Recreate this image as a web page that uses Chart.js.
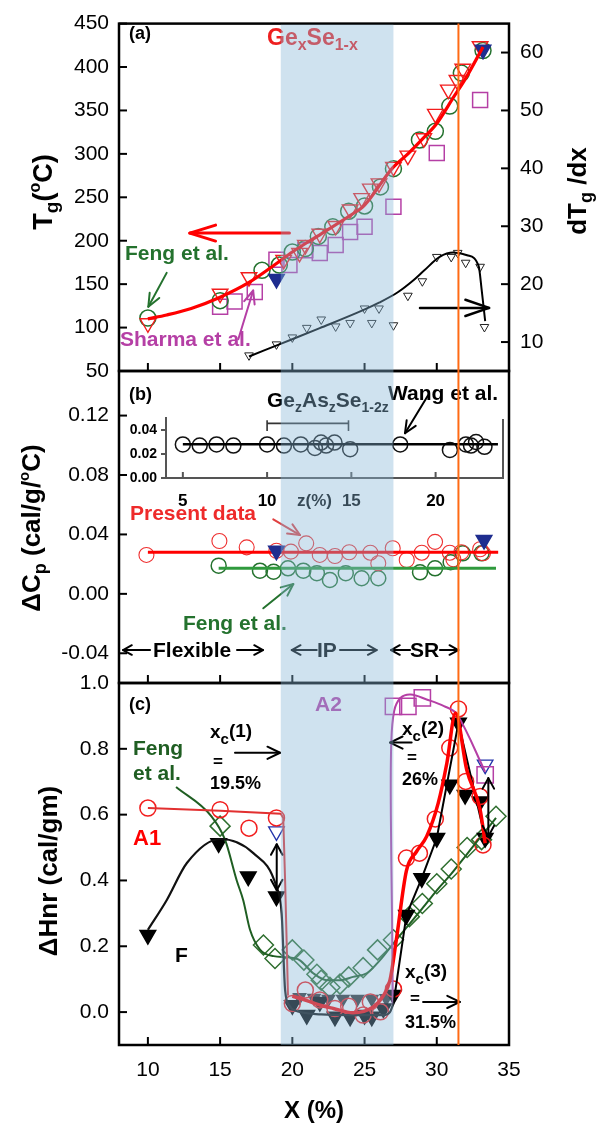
<!DOCTYPE html>
<html>
<head>
<meta charset="utf-8">
<script src="https://cdn.jsdelivr.net/npm/chart.js@4.4.1/dist/chart.umd.min.js"></script>
<style>
body{margin:0;background:#fff}
#wrap{position:relative;width:605px;height:1124px}
canvas{position:absolute;left:0;top:0}
</style>
</head>
<body>
<div id="wrap">
<canvas id="ca" width="605" height="1124"></canvas>
<canvas id="cb" width="605" height="1124"></canvas>
<canvas id="cc" width="605" height="1124"></canvas>
<canvas id="ci" width="605" height="1124"></canvas>
</div>
<script>
// ---- axes / ticks ----
const xTicks=[10,15,20,25,30,35]
const tgTicks=[50,100,150,200,250,300,350,400,450]
const dtgTicks=[10,20,30,40,50,60]
const cpTicks=[-0.04,0,0.04,0.08,0.12]
const hTicks=[0,0.2,0.4,0.6,0.8,1.0]
const zTicks=[5,10,15,20]
const insetTicks=[0,0.02,0.04]
const bandX=[19.2,27.0]   // intermediate phase
const xcLine=31.5

// ---- (a) Tg ----
const tgPresentX=[10,15,17,19.4,20.5,20.9,21.9,23,24,24.8,25.4,26,27,28,29.1,29.9,30.8,31.4,31.8,33]
const tgPresentY=[105,139,158,178,186,195,208,217,236,249,260,266,285,298,318,346,374,385,398,424]
const tgFengX=[10,15,17.9,19.1,20,20.9,21.8,22.8,23.9,25,26.1,27,28.8,29.9,30.9,31.7,33.2]
const tgFengY=[111,131,166,172,187,191,205,216,234,240,262,283,316,326,355,393,419]
const tgSharmaX=[15,16,17.4,18.9,19.8,20.9,21.9,23,24,25,27,30,33]
const tgSharmaY=[124,130,141,178,172,189,186,195,210,216,239,301,362]
const tgNavyX=[18.9,33.2]
const tgNavyY=[156,420]
const tgFitX=[10,11.3,13,15,17,19,20,22,24,25,26.9,28,29,30,31.15,32,33.2]
const tgFitY=[110,114.5,122,135,152,175,187,208,229,241,283,300,317,335,365,387,423]
const dtgX=[17,18.9,20,21,22,23,24,25,25.5,26,27,28,29,30,31,31.45,32,33,33.3]
const dtgY=[7.7,9.6,10.8,12.45,13.9,12.7,13.3,15.8,13.3,15.8,12.9,18,20.5,24.7,24.7,25.4,23.7,23,12.6]
const dtgFitX=[17,19.1,21.9,24.9,26,27.3,28.3,29.1,30.2,31.15,32.1,32.9,33.1,33.35]
const dtgFitY=[7.5,9.6,12.4,15.5,16.8,18.6,20.5,22.3,24.7,25.45,25.0,23.1,19.2,13.6]

// ---- (b) delta Cp ----
const cpPresentX=[9.9,14.95,16.84,18.9,19.9,20.96,21.9,22.95,23.94,25.4,25.95,26.95,27.92,28.96,29.88,30.9,31.15,31.7,33,33.2]
const cpPresentY=[0.0262,0.0356,0.0313,0.029,0.0284,0.034,0.0262,0.0255,0.028,0.0277,0.0206,0.0307,0.0228,0.0277,0.035,0.0277,0.0233,0.028,0.030,0.0273]
const cpFengX=[14.9,17.76,18.7,19.7,20.76,21.7,22.6,23.7,24.8,25.95,28.84,29.88,30.96,31.8,33.1]
const cpFengY=[0.019,0.0156,0.0149,0.0172,0.0156,0.0139,0.0093,0.0139,0.0105,0.0105,0.0145,0.0172,0.0213,0.0273,0.0273]
const cpNavyX=[18.9,33.27]
const cpNavyY=[0.029,0.0363]
const cpPresentFitX=[10,34.25]
const cpPresentFitY=[0.028,0.028]
const cpFengFitX=[14.9,34.1]
const cpFengFitY=[0.0172,0.0172]
// inset: GezAszSe1-2z (Wang et al.)
const wangZ=[5,6,7,8,10,11,12,12.84,13.2,13.5,14,14.93,17.9,20.85,21.8,22.1,22.4,22.9]
const wangY=[0.028,0.027,0.028,0.027,0.028,0.027,0.028,0.025,0.0295,0.027,0.0295,0.024,0.028,0.0234,0.028,0.027,0.030,0.026]
const wangFitZ=[5,23.7]
const wangFitY=[0.0282,0.0282]

// ---- (c) delta Hnr ----
const hRedX=[10,15,17,18.9,20,20.9,21.9,22.95,23.9,24.9,25.4,26.1,27,27.9,28.8,29.9,30.9,31.5,32,33,33.2]
const hRedY=[0.62,0.615,0.559,0.59,0.026,0.067,0.037,0.011,0.018,-0.009,0.031,0.001,0.07,0.468,0.483,0.587,0.803,0.921,0.701,0.655,0.508]
const hBlackX=[10,14.9,16.95,18.9,20,21,21.9,22.95,24,25,25.5,26.3,27,27.9,28.96,30,30.9,31.5,31.96,33,33.35]
const hBlackY=[0.234,0.513,0.412,0.351,0.021,-0.009,0.031,-0.014,-0.014,-0.009,-0.014,0.011,0.052,0.295,0.407,0.529,0.691,0.879,0.66,0.64,0.529]
const hGrayX=[20.5,21.5,22.5,23.5,24.5,25.5,26.5]
const hGrayY=[0.045,0.043,0.04,0.04,0.04,0.04,0.042]
const hFengX=[15,18,18.8,20,20.8,21.7,22,22.6,23.3,23.9,24.9,25.9,27,28.1,29,30,31,32.1,33.1,34.1]
const hFengY=[0.565,0.204,0.163,0.189,0.158,0.115,0.097,0.075,0.085,0.107,0.135,0.189,0.22,0.29,0.33,0.39,0.435,0.5,0.524,0.595]
const hMagX=[27,28,29,33.35]
const hMagY=[0.929,0.929,0.955,0.721]
const hNavyX=[18.9,33.35]
const hNavyY=[0.549,0.752]
const a1FitX=[10,15,19.2,19.37,19.5,19.7]
const a1FitY=[0.62,0.612,0.603,0.59,0.4,0.05]
const redFitX=[20,21,22,22.84,24.2,25.6,26.3,26.76,27.2,27.9,28.6,29.3,30.1,30.7,31.3,32.07,33,33.35]
const redFitY=[0.049,0.035,0.02,0.011,-0.002,0.016,0.05,0.097,0.22,0.43,0.488,0.534,0.635,0.757,0.909,0.737,0.615,0.513]
const fFitX=[10,11.3,12.7,15,17.3,18.9,19.26,19.5,19.8,20.1,22,24,26.3,26.76,27.0]
const fFitY=[0.25,0.34,0.453,0.526,0.483,0.381,0.3,0.067,0.02,0.006,-0.007,-0.009,-0.009,0.0,0.026]
const blackSegX=[27,27.9,28.96,30,31.5,33.35]
const blackSegY=[0.026,0.295,0.407,0.529,0.879,0.529]
const a2FitX=[26.95,26.9,26.82,26.85,27.05,27.5,28.2,29.3,30.5,31.4,33.35]
const a2FitY=[0.02,0.3,0.6,0.82,0.915,0.955,0.965,0.95,0.93,0.905,0.73]
const hFengFitX=[11.95,14.4,15.34,16.15,16.6,17.07,17.76,18.7,19.7,20.5,21.45,22.4,23.3,24.2,25.15,26.07,27,28,29,30,31,32,33,34.1]
const hFengFitY=[0.684,0.595,0.524,0.40,0.34,0.25,0.19,0.17,0.1665,0.158,0.118,0.097,0.097,0.107,0.118,0.158,0.209,0.262,0.315,0.37,0.42,0.475,0.53,0.59]

// ---- styling ----
const FONT='"Liberation Sans", Arial, Helvetica, sans-serif'
const RED='#ff0000',REDM='#f21d1d',GREEN='#24722e',GREENL='#2f9a3d',GREEND='#1f5e22',MAG='#b53fa5',NAVY='#1f2d8f',ORANGE='#ff6a14'
Chart.defaults.font.family=FONT
Chart.defaults.color='#000'
Chart.defaults.animation=false
Chart.defaults.events=[]
Chart.defaults.plugins.legend.display=false
Chart.defaults.plugins.tooltip.enabled=false

const pts=(xs,ys)=>xs.map((x,i)=>({x:x,y:ys[i]}))
function mk(xs,ys,o){
return Object.assign({data:pts(xs,ys),showLine:false,order:2,pointBorderWidth:1.5,pointBackgroundColor:'rgba(0,0,0,0)'},o)
}
function ln(xs,ys,o){
return Object.assign({data:pts(xs,ys),showLine:true,pointRadius:0,fill:false,order:1,borderWidth:2},o)
}
function xScale(show){
return {type:'linear',min:8,max:35,display:show,
afterBuildTicks:s=>{s.ticks=xTicks.map(v=>({value:v}))},
afterFit:s=>{if(show)s.height=79},
grid:{display:false,drawTicks:false},border:{display:false},
ticks:{autoSkip:false,maxRotation:0,padding:13,color:'#000',font:{size:21}}}
}
function yScale(min,max,ticks,fmt,side){
return {type:'linear',position:side||'left',min:min,max:max,
afterBuildTicks:s=>{s.ticks=ticks.map(v=>({value:v}))},
afterFit:s=>{s.width=side==='right'?96:119},
grid:{display:false,drawTicks:false},border:{display:false},
ticks:{autoSkip:false,padding:side==='right'?11:10,color:'#000',font:{size:21},callback:fmt}}
}

function line(ctx,x1,y1,x2,y2){ctx.beginPath();ctx.moveTo(x1,y1);ctx.lineTo(x2,y2);ctx.stroke()}
function drawArrow(ctx,x1,y1,x2,y2,o){
ctx.save()
ctx.strokeStyle=o.c||'#000';ctx.lineWidth=o.w||2;ctx.lineCap='round';ctx.lineJoin='round'
line(ctx,x1,y1,x2,y2)
const heads=o.both?[[x2,y2,x1,y1],[x1,y1,x2,y2]]:[[x2,y2,x1,y1]]
const L=o.h||12,a=o.a||0.42
heads.forEach(h=>{
const ang=Math.atan2(h[1]-h[3],h[0]-h[2])
ctx.beginPath()
ctx.moveTo(h[0]-L*Math.cos(ang-a),h[1]-L*Math.sin(ang-a))
ctx.lineTo(h[0],h[1])
ctx.lineTo(h[0]-L*Math.cos(ang+a),h[1]-L*Math.sin(ang+a))
ctx.stroke()
})
ctx.restore()
}
function drawRich(ctx,segs,x,y,color,center){
ctx.save();ctx.fillStyle=color;ctx.textBaseline='alphabetic';ctx.textAlign='left'
let w=0
segs.forEach(s=>{ctx.font='bold '+s[1]+'px '+FONT;w+=ctx.measureText(s[0]).width})
let cx=center?x-w/2:x
segs.forEach(s=>{ctx.font='bold '+s[1]+'px '+FONT;ctx.fillText(s[0],cx,y+(s[2]||0));cx+=ctx.measureText(s[0]).width})
ctx.restore()
}
function drawLabel(ctx,L){
const col=L.c||'#000'
if(L.rot){
ctx.save();ctx.translate(L.x,L.y);ctx.rotate(-Math.PI/2)
drawRich(ctx,L.s,0,L.s[0][1]*0.36,col,true)
ctx.restore()
}else drawRich(ctx,L.s,L.x,L.y,col,L.center)
}

// ---- annotations ----
const labelsA=[
{x:129,y:39,s:[['(a)',18]]},
{x:267,y:45,c:'#ee2020',s:[['Ge',23],['x',16,5],['Se',23],['1-x',16,5]]},
{x:125,y:260,c:GREEN,s:[['Feng et al.',21]]},
{x:120,y:346,c:MAG,s:[['Sharma et al.',21]]},
{x:42,y:192,rot:true,s:[['T',27],['g',19,6],['(',27],['o',16,-12],['C)',27]]},
{x:577,y:191,rot:true,s:[['dT',26],['g',18,6],[' /dx',26]]}
]
const arrowsA=[
{f:[19.8,208.8],t:[12.9,208.8],c:RED,w:3,h:27,a:0.3},
{f:[28.84,15.9],t:[33.62,15.9],ax:'y2',c:'#000',w:2.5,h:25,a:0.33},
{f:[11.3,163],t:[10.03,124],c:GREEN,w:2,h:14,a:0.4},
{f:[16.26,86.6],t:[17.29,142.7],c:MAG,w:2,h:14,a:0.4}
]
const labelsB=[
{x:129,y:400,s:[['(b)',18]]},
{x:267,y:407,s:[['Ge',21],['z',14,5],['As',21],['z',14,5],['Se',21],['1-2z',14,5]]},
{x:388,y:400,s:[['Wang et al.',21]]},
{x:130,y:520,c:'#ee2a2a',s:[['Present data',21]]},
{x:183,y:630,c:GREEN,s:[['Feng et al.',21]]},
{x:153,y:657,s:[['Flexible',21]]},
{x:317,y:657,s:[['IP',21]]},
{x:410,y:657,s:[['SR',21]]},
{x:31,y:528,rot:true,s:[['\u0394C',26],['p',18,6],[' (cal/g/',26],['o',15,-11],['C)',26]]}
]
const arrowsB=[
{f:[18.68,0.0502],t:[20.53,0.0396],c:'#e04040',w:2,h:13},
{f:[17.99,-0.0097],t:[20.07,0.0066],c:GREEN,w:2,h:13},
{f:[29.41,0.1338],t:[27.8,0.1081],c:'#000',w:2,h:13},
{f:[10.15,-0.0378],t:[8.28,-0.0378],w:2,h:10,a:0.5},
{f:[16.17,-0.0378],t:[17.97,-0.0378],w:2,h:10,a:0.5},
{f:[21.69,-0.0378],t:[19.96,-0.0378],w:2,h:10,a:0.5},
{f:[23.3,-0.0378],t:[25.84,-0.0378],w:2,h:10,a:0.5},
{f:[28.15,-0.0378],t:[26.83,-0.0378],w:2,h:10,a:0.5},
{f:[30.22,-0.0378],t:[31.49,-0.0378],w:2,h:10,a:0.5}
]
const labelsC=[
{x:129,y:710,s:[['(c)',18]]},
{x:315,y:711,c:MAG,s:[['A2',21]]},
{x:133,y:755,c:GREEND,s:[['Feng',21]]},
{x:133,y:780,c:GREEND,s:[['et al.',21]]},
{x:210,y:738,s:[['x',19],['c',15,6],['(1)',19,-1]]},
{x:213,y:767,s:[['=',17]]},
{x:210,y:789,s:[['19.5%',18]]},
{x:133,y:845,c:RED,s:[['A1',22]]},
{x:175,y:962,s:[['F',21]]},
{x:402,y:735,s:[['x',19],['c',15,6],['(2)',19,-1]]},
{x:407,y:763,s:[['=',17]]},
{x:402,y:785,s:[['26%',18]]},
{x:405,y:978,s:[['x',19],['c',15,6],['(3)',19,-1]]},
{x:410,y:1004,s:[['=',17]]},
{x:405,y:1028,s:[['31.5%',18]]},
{x:48,y:871,rot:true,s:[['\u0394Hnr (cal/gm)',26]]},
{x:314,y:1118,center:true,s:[['X (%)',24]]}
]
const arrowsC=[
{f:[16.03,0.788],t:[19.15,0.788],w:2,h:14,a:0.45},
{f:[28.26,0.819],t:[26.76,0.819],w:2,h:14,a:0.45},
{f:[29.05,0.031],t:[31.6,0.031],w:2,h:14,a:0.45},
{f:[18.92,0.37],t:[18.92,0.51],w:2,h:12,a:0.5,both:true},
{f:[33.57,0.534],t:[33.57,0.711],w:2,h:12,a:0.5,both:true}
]

function panelPlugin(labels,arrows){
return {id:'panel',
afterDatasetsDraw(ch){
const ctx=ch.ctx,sx=ch.scales.x
arrows.forEach(o=>{
const sy=ch.scales[o.ax||'y']
drawArrow(ctx,sx.getPixelForValue(o.f[0]),sy.getPixelForValue(o.f[1]),sx.getPixelForValue(o.t[0]),sy.getPixelForValue(o.t[1]),o)
})
labels.forEach(L=>drawLabel(ctx,L))
},
afterDraw(ch){
const ctx=ch.ctx,a=ch.chartArea
ctx.save();ctx.strokeStyle='#000';ctx.lineWidth=2
xTicks.forEach(v=>{const p=ch.scales.x.getPixelForValue(v);line(ctx,p,a.bottom,p,a.bottom-8)})
ch.scales.y.ticks.forEach(t=>{const p=ch.scales.y.getPixelForValue(t.value);line(ctx,a.left,p,a.left+8,p)})
if(ch.scales.y2)ch.scales.y2.ticks.forEach(t=>{const p=ch.scales.y2.getPixelForValue(t.value);line(ctx,a.right,p,a.right-8,p)})
ctx.lineWidth=2.5
ctx.strokeRect(a.left,a.top,a.right-a.left,a.bottom-a.top)
ctx.restore()
}}
}

const baseOpts=(pad,scales)=>({responsive:false,maintainAspectRatio:false,layout:{padding:pad},scales:scales})

// ---- panel (a) ----
const chartA=new Chart(document.getElementById('ca'),{
type:'scatter',
data:{datasets:[
ln(tgFitX,tgFitY,{borderColor:RED,borderWidth:3.2,cubicInterpolationMode:'monotone',order:0}),
ln(dtgFitX,dtgFitY,{yAxisID:'y2',borderColor:'#000',borderWidth:2,cubicInterpolationMode:'monotone'}),
mk(tgPresentX,tgPresentY,{pointStyle:'triangle',pointRotation:180,pointRadius:9,pointBorderColor:REDM,pointBorderWidth:1.4}),
mk(tgFengX,tgFengY,{pointStyle:'circle',pointRadius:8,pointBorderColor:GREEN}),
mk(tgSharmaX,tgSharmaY,{pointStyle:'rect',pointRadius:10.6,pointBorderColor:MAG}),
mk(tgNavyX,tgNavyY,{pointStyle:'triangle',pointRotation:180,pointRadius:9,pointBorderColor:NAVY,pointBackgroundColor:NAVY,order:1}),
mk(dtgX,dtgY,{yAxisID:'y2',pointStyle:'triangle',pointRotation:180,pointRadius:5,pointBorderColor:'#222',pointBorderWidth:1})
]},
options:baseOpts({top:14,bottom:753,left:0,right:0},{
x:xScale(false),
y:yScale(50,450,tgTicks,v=>String(v)),
y2:yScale(5,65,dtgTicks,v=>String(v),'right')
}),
plugins:[panelPlugin(labelsA,arrowsA)]
})

// ---- panel (b) ----
const chartB=new Chart(document.getElementById('cb'),{
type:'scatter',
data:{datasets:[
ln(cpPresentFitX,cpPresentFitY,{borderColor:RED,borderWidth:3}),
ln(cpFengFitX,cpFengFitY,{borderColor:GREENL,borderWidth:3}),
mk(cpPresentX,cpPresentY,{pointStyle:'circle',pointRadius:7.5,pointBorderColor:'#ee3030',pointBorderWidth:1.1}),
mk(cpFengX,cpFengY,{pointStyle:'circle',pointRadius:7.5,pointBorderColor:GREEN}),
mk(cpNavyX,cpNavyY,{pointStyle:'triangle',pointRotation:180,pointRadius:9,pointBorderColor:NAVY,pointBackgroundColor:NAVY,order:0})
]},
options:baseOpts({top:371,bottom:441,left:0,right:96},{
x:xScale(false),
y:yScale(-0.06,0.15,cpTicks,v=>v.toFixed(2))
}),
plugins:[panelPlugin(labelsB,arrowsB)]
})

// ---- panel (c) ----
const chartC=new Chart(document.getElementById('cc'),{
type:'scatter',
data:{datasets:[
ln(redFitX,redFitY,{borderColor:RED,borderWidth:3.5,cubicInterpolationMode:'monotone',order:0}),
ln(a1FitX,a1FitY,{borderColor:'#e23030',borderWidth:2}),
ln(fFitX,fFitY,{borderColor:'#111',borderWidth:2.2,cubicInterpolationMode:'monotone'}),
ln(blackSegX,blackSegY,{borderColor:'#000',borderWidth:2}),
ln(a2FitX,a2FitY,{borderColor:MAG,borderWidth:2,tension:0.35}),
ln(hFengFitX,hFengFitY,{borderColor:GREEND,borderWidth:2,cubicInterpolationMode:'monotone'}),
mk(hRedX,hRedY,{pointStyle:'circle',pointRadius:8,pointBorderColor:REDM}),
mk(hBlackX,hBlackY,{pointStyle:'triangle',pointRotation:180,pointRadius:9,pointBorderColor:'#000',pointBackgroundColor:'#000'}),
mk(hGrayX,hGrayY,{pointStyle:'triangle',pointRotation:180,pointRadius:7,pointBorderColor:'#333',pointBackgroundColor:'#333'}),
mk(hFengX,hFengY,{pointStyle:'rectRot',pointRadius:10,pointBorderColor:'#2e6e2e'}),
mk(hMagX,hMagY,{pointStyle:'rect',pointRadius:11.5,pointBorderColor:MAG}),
mk(hNavyX,hNavyY,{pointStyle:'triangle',pointRotation:180,pointRadius:9,pointBorderColor:'#2233aa',pointBorderWidth:1.3})
]},
options:baseOpts({top:683,bottom:0,left:0,right:96},{
x:xScale(true),
y:yScale(-0.1,1.0,hTicks,v=>v.toFixed(1))
}),
plugins:[panelPlugin(labelsC,arrowsC)]
})

// ---- inset + band overlay ----
const insetPlugin={id:'inset',
afterDatasetsDraw(ch){
const ctx=ch.ctx,a=ch.chartArea,sx=ch.scales.x,sy=ch.scales.y
ctx.save();ctx.strokeStyle='#555';ctx.lineWidth=2
line(ctx,a.right,a.top+1,a.right,a.bottom)
zTicks.forEach(v=>{const p=sx.getPixelForValue(v);line(ctx,p,a.bottom,p,a.bottom-6)})
insetTicks.forEach(v=>{const p=sy.getPixelForValue(v);line(ctx,a.left,p,a.left-5,p)})
ctx.strokeStyle='#333';ctx.lineWidth=1.6
const y0=sy.getPixelForValue(0.0455),xl=sx.getPixelForValue(10),xr=sx.getPixelForValue(14.83)
line(ctx,xl,y0,xr,y0)
line(ctx,xl,sy.getPixelForValue(0.0481),xl,sy.getPixelForValue(0.0392))
line(ctx,xr,sy.getPixelForValue(0.0481),xr,sy.getPixelForValue(0.0392))
ctx.restore()
drawLabel(ctx,{x:297,y:506,s:[['z(%)',17]]})
}}
const bandPlugin={id:'band',
afterDraw(ch){
const ctx=ch.ctx,xs=chartA.scales.x
const top=chartA.chartArea.top,bot=chartC.chartArea.bottom
const x1=xs.getPixelForValue(bandX[0]),x2=xs.getPixelForValue(bandX[1])
ctx.save()
ctx.fillStyle='rgba(135,182,215,0.4)'
ctx.fillRect(x1,top+1,x2-x1,bot-top-1)
const xo=xs.getPixelForValue(xcLine)
ctx.strokeStyle=ORANGE;ctx.lineWidth=2
line(ctx,xo,top,xo,bot)
ctx.restore()
}}
const chartI=new Chart(document.getElementById('ci'),{
type:'scatter',
data:{datasets:[
ln(wangFitZ,wangFitY,{borderColor:'#000',borderWidth:2.5}),
mk(wangZ,wangY,{pointStyle:'circle',pointRadius:7.5,pointBorderColor:'#111'})
]},
options:baseOpts({top:418,bottom:606,left:0,right:102},{
x:{type:'linear',min:4,max:24,
afterBuildTicks:s=>{s.ticks=zTicks.map(v=>({value:v}))},
afterFit:s=>{s.height=40},
grid:{display:false,drawTicks:false},border:{display:true,color:'#555',width:2},
ticks:{autoSkip:false,maxRotation:0,padding:13,color:'#000',font:{size:17,weight:'bold'}}},
y:{type:'linear',min:0,max:0.05,
afterBuildTicks:s=>{s.ticks=insetTicks.map(v=>({value:v}))},
afterFit:s=>{s.width=166},
grid:{display:false,drawTicks:false},border:{display:true,color:'#555',width:2},
ticks:{autoSkip:false,padding:9,color:'#000',font:{size:14,weight:'bold'},callback:v=>v.toFixed(2)}}
}),
plugins:[insetPlugin,bandPlugin]
})
</script>
</body>
</html>
